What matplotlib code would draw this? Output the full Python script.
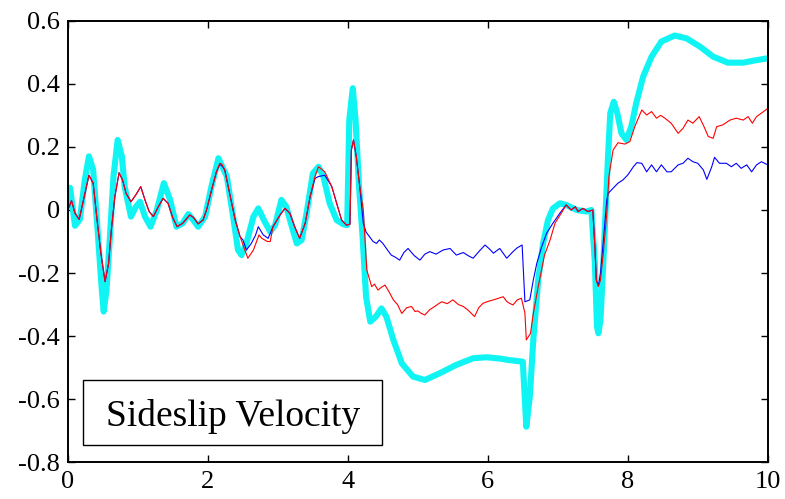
import numpy as np
import matplotlib
matplotlib.use("Agg")
import matplotlib.pyplot as plt
from matplotlib.patches import Rectangle

plt.rcParams["font.family"] = ["Liberation Serif", "DejaVu Serif"]
plt.rcParams["axes.unicode_minus"] = False

# thick cyan trace (time, value)
cyan_pts = [
    (0.0, 0.02), (0.03, 0.07), (0.1, -0.05), (0.17, -0.03), (0.24, 0.095), (0.30, 0.17),
    (0.36, 0.127), (0.43, -0.085), (0.48, -0.243), (0.51, -0.322), (0.55, -0.254),
    (0.60, -0.085), (0.65, 0.106), (0.71, 0.222), (0.77, 0.17), (0.81, 0.074),
    (0.90, -0.021), (0.97, 0.01), (1.03, 0.026), (1.10, -0.021), (1.18, -0.053),
    (1.27, 0.0), (1.37, 0.085), (1.46, 0.032), (1.55, -0.053), (1.64, -0.042),
    (1.72, -0.013), (1.79, -0.032), (1.86, -0.053), (1.96, -0.021), (2.05, 0.074),
    (2.15, 0.164), (2.27, 0.106), (2.36, -0.021), (2.43, -0.127), (2.48, -0.143),
    (2.55, -0.106), (2.65, -0.021), (2.72, 0.005), (2.80, -0.032), (2.89, -0.069),
    (2.96, -0.048), (3.05, 0.032), (3.12, 0.01), (3.20, -0.053), (3.27, -0.106),
    (3.34, -0.095), (3.41, -0.01), (3.50, 0.116), (3.58, 0.137), (3.65, 0.106),
    (3.74, 0.021), (3.84, -0.032), (3.93, -0.045), (3.99, -0.048), (4.02, 0.285),
    (4.07, 0.386), (4.11, 0.285), (4.16, 0.074), (4.21, -0.085), (4.26, -0.275),
    (4.32, -0.354), (4.40, -0.338), (4.48, -0.312), (4.55, -0.338), (4.65, -0.412),
    (4.77, -0.486), (4.93, -0.528), (5.10, -0.539), (5.31, -0.518), (5.55, -0.491),
    (5.79, -0.47), (5.98, -0.467), (6.17, -0.471), (6.31, -0.476), (6.50, -0.481),
    (6.55, -0.687), (6.60, -0.592), (6.65, -0.412), (6.72, -0.222), (6.79, -0.106),
    (6.86, -0.032), (6.93, 0.005), (7.03, 0.021), (7.12, 0.016), (7.27, 0.0),
    (7.41, -0.005), (7.48, 0.0), (7.53, -0.169), (7.56, -0.37), (7.58, -0.391),
    (7.61, -0.349), (7.65, -0.169), (7.69, 0.032), (7.72, 0.18), (7.75, 0.307),
    (7.80, 0.343), (7.85, 0.307), (7.91, 0.243), (7.98, 0.222), (8.05, 0.264),
    (8.12, 0.338), (8.22, 0.423), (8.34, 0.486), (8.48, 0.534), (8.67, 0.553),
    (8.84, 0.544), (9.03, 0.518), (9.22, 0.486), (9.43, 0.467), (9.65, 0.467),
    (9.79, 0.473), (10.0, 0.481),
]

# thin red trace
red_pts = [
    (0.0, 0.0), (0.05, 0.03), (0.1, -0.01), (0.16, -0.03), (0.22, 0.03), (0.3, 0.11),
    (0.36, 0.085), (0.41, -0.02), (0.47, -0.137), (0.53, -0.227), (0.58, -0.17),
    (0.62, -0.063), (0.67, 0.042), (0.73, 0.118), (0.78, 0.095), (0.83, 0.053),
    (0.9, 0.026), (0.97, 0.048), (1.04, 0.074), (1.1, 0.032), (1.16, -0.005),
    (1.22, -0.021), (1.29, 0.01), (1.36, 0.037), (1.43, 0.021), (1.5, -0.026),
    (1.56, -0.053), (1.64, -0.042), (1.74, -0.016), (1.79, -0.023), (1.86, -0.044),
    (1.93, -0.032), (1.98, 0.0), (2.06, 0.07), (2.12, 0.12), (2.17, 0.148),
    (2.2, 0.145), (2.24, 0.127), (2.31, 0.053), (2.39, -0.032), (2.46, -0.085),
    (2.5, -0.11), (2.57, -0.153), (2.65, -0.127), (2.73, -0.079), (2.77, -0.09),
    (2.81, -0.095), (2.85, -0.1), (2.89, -0.1), (2.93, -0.053), (3.03, -0.016),
    (3.1, 0.005), (3.17, -0.01), (3.24, -0.053), (3.31, -0.09), (3.39, -0.042),
    (3.46, 0.042), (3.53, 0.106), (3.58, 0.137), (3.67, 0.121), (3.77, 0.074),
    (3.84, 0.021), (3.91, -0.032), (3.98, -0.048), (4.03, -0.045), (4.05, 0.19),
    (4.08, 0.222), (4.12, 0.169), (4.17, 0.074), (4.22, 0.0), (4.27, -0.19),
    (4.34, -0.243), (4.38, -0.235), (4.43, -0.254), (4.48, -0.245), (4.53, -0.238),
    (4.59, -0.26), (4.65, -0.285), (4.71, -0.3), (4.77, -0.328), (4.84, -0.31),
    (4.91, -0.306), (4.96, -0.322), (5.0, -0.32), (5.05, -0.328), (5.1, -0.333),
    (5.17, -0.316), (5.24, -0.306), (5.29, -0.298), (5.34, -0.291), (5.42, -0.297),
    (5.5, -0.285), (5.58, -0.3), (5.65, -0.306), (5.72, -0.318), (5.81, -0.338),
    (5.87, -0.31), (5.93, -0.296), (6.0, -0.29), (6.08, -0.285), (6.15, -0.28),
    (6.22, -0.275), (6.27, -0.29), (6.31, -0.296), (6.36, -0.301), (6.42, -0.285),
    (6.48, -0.28), (6.53, -0.327), (6.55, -0.412), (6.61, -0.391), (6.65, -0.328),
    (6.72, -0.243), (6.81, -0.143), (6.89, -0.095), (6.96, -0.042), (7.05, -0.01),
    (7.12, 0.016), (7.19, 0.0), (7.25, 0.01), (7.29, -0.005), (7.36, 0.005),
    (7.43, -0.005), (7.5, 0.0), (7.53, -0.116), (7.55, -0.222), (7.58, -0.243),
    (7.61, -0.222), (7.65, -0.137), (7.7, -0.01), (7.73, 0.106), (7.79, 0.19),
    (7.86, 0.213), (7.96, 0.209), (8.03, 0.217), (8.1, 0.264), (8.2, 0.317),
    (8.27, 0.301), (8.34, 0.312), (8.41, 0.291), (8.47, 0.3), (8.53, 0.291),
    (8.62, 0.275), (8.72, 0.243), (8.79, 0.259), (8.86, 0.285), (8.93, 0.275),
    (9.02, 0.296), (9.09, 0.264), (9.15, 0.233), (9.22, 0.227), (9.27, 0.264),
    (9.36, 0.27), (9.46, 0.285), (9.55, 0.291), (9.65, 0.285), (9.72, 0.296),
    (9.78, 0.275), (9.84, 0.296), (9.91, 0.307), (10.0, 0.322),
]

# thin blue trace
blue_pts = [
    (0.0, 0.0), (0.05, 0.03), (0.1, -0.01), (0.16, -0.03), (0.22, 0.03), (0.3, 0.11),
    (0.36, 0.085), (0.41, -0.02), (0.47, -0.137), (0.53, -0.227), (0.58, -0.17),
    (0.62, -0.063), (0.67, 0.042), (0.73, 0.118), (0.78, 0.095), (0.83, 0.053),
    (0.9, 0.026), (0.97, 0.048), (1.04, 0.074), (1.1, 0.032), (1.16, -0.005),
    (1.22, -0.021), (1.29, 0.01), (1.36, 0.037), (1.43, 0.021), (1.5, -0.026),
    (1.56, -0.053), (1.64, -0.042), (1.74, -0.016), (1.79, -0.023), (1.86, -0.044),
    (1.93, -0.032), (1.98, 0.0), (2.06, 0.07), (2.12, 0.12), (2.17, 0.145),
    (2.2, 0.14), (2.24, 0.127), (2.31, 0.053), (2.39, -0.032), (2.46, -0.085),
    (2.5, -0.095), (2.55, -0.127), (2.62, -0.106), (2.68, -0.08), (2.72, -0.053),
    (2.79, -0.079), (2.86, -0.09), (2.93, -0.053), (3.03, -0.016), (3.1, 0.005),
    (3.17, -0.01), (3.24, -0.053), (3.31, -0.09), (3.39, -0.042), (3.46, 0.042),
    (3.53, 0.1), (3.58, 0.106), (3.67, 0.11), (3.77, 0.074), (3.84, 0.021),
    (3.91, -0.032), (3.98, -0.048), (4.03, -0.045), (4.05, 0.19), (4.08, 0.222),
    (4.12, 0.169), (4.17, 0.074), (4.22, -0.042), (4.26, -0.07), (4.31, -0.085),
    (4.36, -0.1), (4.41, -0.106), (4.45, -0.095), (4.5, -0.106), (4.56, -0.125),
    (4.62, -0.143), (4.68, -0.15), (4.74, -0.159), (4.8, -0.135), (4.86, -0.122),
    (4.95, -0.145), (5.03, -0.159), (5.1, -0.14), (5.17, -0.132), (5.26, -0.14),
    (5.36, -0.127), (5.46, -0.122), (5.55, -0.143), (5.65, -0.135), (5.72, -0.145),
    (5.79, -0.153), (5.88, -0.13), (5.96, -0.111), (6.03, -0.125), (6.08, -0.137),
    (6.17, -0.122), (6.27, -0.153), (6.36, -0.132), (6.42, -0.12), (6.49, -0.111),
    (6.53, -0.291), (6.6, -0.285), (6.65, -0.222), (6.7, -0.169), (6.77, -0.116),
    (6.84, -0.074), (6.93, -0.042), (7.03, -0.01), (7.12, 0.016), (7.19, 0.0),
    (7.25, 0.01), (7.29, -0.005), (7.36, 0.005), (7.43, -0.005), (7.5, 0.0),
    (7.53, -0.116), (7.55, -0.222), (7.58, -0.24), (7.61, -0.2), (7.65, -0.1),
    (7.7, 0.032), (7.72, 0.053), (7.79, 0.069), (7.86, 0.085), (7.93, 0.095),
    (8.0, 0.111), (8.08, 0.137), (8.13, 0.15), (8.2, 0.148), (8.27, 0.121),
    (8.34, 0.143), (8.41, 0.121), (8.48, 0.143), (8.56, 0.121), (8.62, 0.121),
    (8.72, 0.143), (8.79, 0.148), (8.86, 0.164), (8.93, 0.153), (9.0, 0.148),
    (9.08, 0.127), (9.13, 0.097), (9.2, 0.137), (9.24, 0.167), (9.31, 0.148),
    (9.41, 0.148), (9.48, 0.137), (9.55, 0.148), (9.62, 0.132), (9.7, 0.143),
    (9.77, 0.121), (9.84, 0.143), (9.91, 0.153), (10.0, 0.143),
]

x_ticks = [0, 2, 4, 6, 8, 10]
x_labels = ["0", "2", "4", "6", "8", "10"]
y_ticks = [-0.8, -0.6, -0.4, -0.2, 0.0, 0.2, 0.4, 0.6]
y_labels = ["-0.8", "-0.6", "-0.4", "-0.2", "0", "0.2", "0.4", "0.6"]
title_text = "Sideslip Velocity"

fig = plt.figure(figsize=(7.85, 4.99), dpi=100)
ax = fig.add_axes([0.0866, 0.0735, 0.8914, 0.885])

for pts, color, lw in [(cyan_pts, "#10f4f4", 4.4),
                       (blue_pts, "#0000ff", 0.8),
                       (red_pts, "#ff0000", 0.8)]:
    t, v = np.array(pts).T
    ax.plot(t, v, color=color, lw=lw, solid_joinstyle="round", solid_capstyle="round")

ax.set_xlim(0, 10)
ax.set_ylim(-0.8, 0.6)
ax.set_xticks(x_ticks)
ax.set_xticklabels(x_labels)
ax.set_yticks(y_ticks)
ax.set_yticklabels(y_labels)
ax.tick_params(direction="in", top=True, right=True, length=5, width=1,
               labelsize=19, pad=6)
for s in ax.spines.values():
    s.set_linewidth(1.4)

ax.add_patch(Rectangle((0.0214, 0.039), 0.427, 0.147, transform=ax.transAxes,
                       facecolor="white", edgecolor="black", lw=1.0, zorder=5))
ax.text(0.236, 0.103, title_text, transform=ax.transAxes, ha="center", va="center",
        fontsize=27, zorder=6)

fig.savefig("out.png", dpi=100)
